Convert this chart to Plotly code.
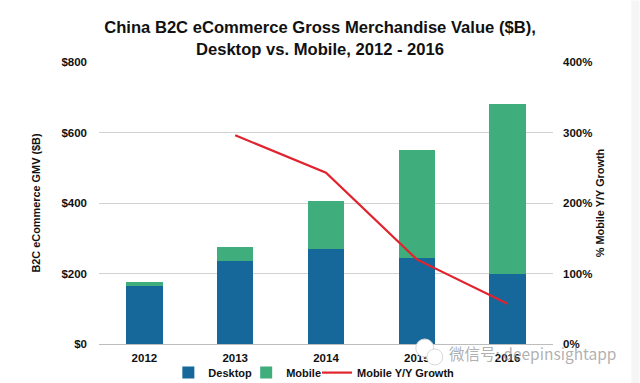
import plotly.graph_objects as go

years = ["2012", "2013", "2014", "2015", "2016"]
desktop = [165, 235, 270, 245, 200]
mobile = [10, 40, 135, 305, 480]
growth = [None, 296, 243, 120, 57]
left_ticks = [0, 200, 400, 600, 800]
left_labels = ["$0", "$200", "$400", "$600", "$800"]
right_ticks = [0, 100, 200, 300, 400]
right_labels = ["0%", "100%", "200%", "300%", "400%"]
title = "China B2C eCommerce Gross Merchandise Value ($B),<br>Desktop vs. Mobile, 2012 - 2016"
font = "Liberation Sans"
W, H = 640, 383

fig = go.Figure()
fig.add_bar(x=years, y=desktop, name="Desktop", marker_color="#156899", marker_line_width=0, width=0.4,
            legend="legend", showlegend=True)
fig.add_bar(x=years, y=mobile, name="Mobile", marker_color="#3FAE7C", marker_line_width=0, width=0.4,
            legend="legend2", showlegend=True)
fig.add_scatter(x=years, y=growth, name="Mobile Y/Y Growth", mode="lines", yaxis="y2",
                line=dict(color="#E0242F", width=2.2), legend="legend3", showlegend=True)

tickfont = dict(family=font, size=11.5, color="#111111", weight="bold")
axfont = dict(family=font, size=10.9, color="#111111", weight="bold")


def circle(cx, cy, r):
    return dict(type="circle", xref="paper", yref="paper",
                x0=(cx - r - 98.5) / 455, x1=(cx + r - 98.5) / 455,
                y0=(344 - cy - r) / 282.5, y1=(344 - cy + r) / 282.5,
                fillcolor="white", line=dict(color="#D8D8D8", width=1), layer="above")


def legend_at(text_x):
    return dict(orientation="h", x=(text_x - 40 - 98.5) / 455, xanchor="left", y=-0.05, yanchor="top",
                font=dict(family=font, size=11, color="#111111", weight="bold"),
                itemwidth=30, bgcolor="rgba(0,0,0,0)")


fig.update_layout(
    width=W, height=H, margin=dict(l=98.5, r=86.5, t=61.5, b=39, autoexpand=False),
    autosize=False, paper_bgcolor="white", plot_bgcolor="white", barmode="stack",
    font=dict(family=font), showlegend=True,
    title=dict(text=title, x=0.5, xanchor="center", y=0.913, yanchor="top",
               font=dict(family=font, size=16.6, color="#111111", weight="bold")),
    xaxis=dict(tickfont=tickfont, showline=True, linecolor="#BDBDBD",
               linewidth=1, ticks="", showgrid=False, type="category", ticklabelstandoff=3),
    yaxis=dict(range=[0, 800], tickvals=left_ticks, ticktext=left_labels, tickfont=tickfont,
               gridcolor="#D2D2D2", gridwidth=1, zeroline=False,
               ticks="", ticklabelstandoff=11,
               title=dict(text="\u00a0\u00a0\u00a0\u00a0B2C eCommerce GMV ($B)", standoff=18, font=axfont)),
    yaxis2=dict(range=[0, 400], tickvals=right_ticks, ticktext=right_labels, tickfont=tickfont,
                overlaying="y", side="right", showgrid=False, zeroline=False, ticks="", ticklabelstandoff=9,
                title=dict(text="% Mobile Y/Y Growth", standoff=4, font=axfont)),
    legend=legend_at(208),
    legend2=legend_at(286),
    legend3=legend_at(357),
    shapes=[dict(type="rect", xref="paper", yref="paper", x0=(632 - 98.5) / 455, x1=(640 - 98.5) / 455,
                 y0=-39 / 282.5, y1=(344 / 282.5), fillcolor="#F5F5F5", line_width=0, layer="below"),
            circle(425, 348, 9), circle(435, 357, 8)],
    annotations=[dict(text="微信号: deepinsightapp", x=(619 - 98.5) / 455, y=(344 - 353) / 282.5,
                      xref="paper", yref="paper",
                      xanchor="right", yanchor="middle", showarrow=False,
                      font=dict(family="Noto Sans CJK SC", size=15.5, color="rgba(150,150,150,0.75)"))],
)
fig.write_html("out.html", config={"displayModeBar": False},
               post_script="document.body.style.margin='0';document.body.style.overflow='hidden';")
